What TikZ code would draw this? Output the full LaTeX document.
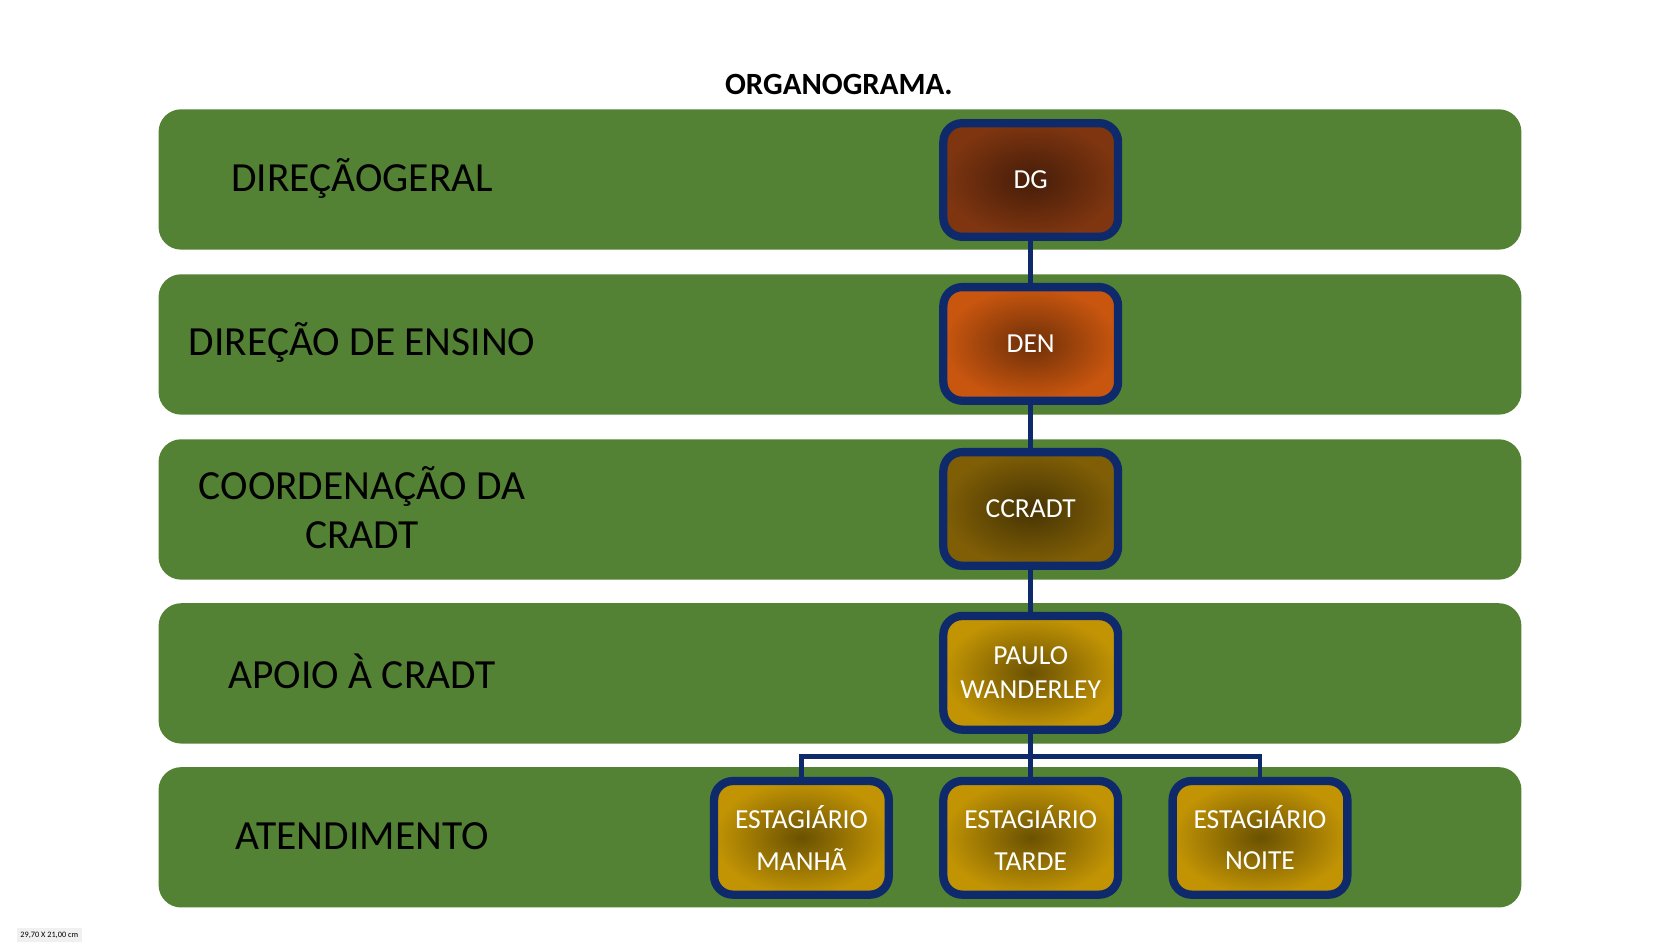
\documentclass[tikz,border=0pt]{standalone}
\usepackage{fontspec}
\setmainfont{Carlito}
\definecolor{band}{HTML}{548235}
\definecolor{navy}{HTML}{0E2A6A}
\definecolor{dgc}{HTML}{7E3510}
\definecolor{denc}{HTML}{C9560F}
\definecolor{ccc}{HTML}{7F5E06}
\definecolor{goldc}{HTML}{C29404}
\tikzset{
  band/.style={fill=band, rounded corners=6pt, draw=none},
  lbl/.style={font=\fontsize{11}{13}\selectfont, align=center, text=black},
  box/.style={draw=navy, line width=2.2pt, rounded corners=5pt, minimum width=1.63cm,
    minimum height=1.06cm, text width=1.45cm, inner sep=2pt, align=center, text=white,
    font=\fontsize{7.3}{9}\selectfont, shading=radial},
  link/.style={draw=navy, line width=1.3pt},
}
\begin{document}
\begin{tikzpicture}[x=0.01cm, y=-0.01cm]
  \useasboundingbox (0,0) rectangle (1568,882);
  \node[font=\bfseries\fontsize{8.2}{9}\selectfont] (title) at (783,79) {ORGANOGRAMA.};
  % bands
  \foreach \t in {102,256,410,563,716}
    \path[band] (148,\t) rectangle (1420,\t+131);
  \node[lbl] (l1) at (338,167) {DIREÇÃOGERAL};
  \node[lbl] (l2) at (338,320) {DIREÇÃO DE ENSINO};
  \node[lbl] (l3) at (338,474) {COORDENAÇÃO DA\\CRADT};
  \node[lbl] (l4) at (338,627) {APOIO À CRADT};
  \node[lbl] (l5) at (338,780) {ATENDIMENTO};
  % boxes
  \node[box, inner color=dgc!55!black, outer color=dgc] (dg) at (962,168) {DG};
  \node[box, inner color=denc!55!black, outer color=denc] (den) at (962,321) {DEN};
  \node[box, inner color=ccc!55!black, outer color=ccc] (cc) at (962,475) {CCRADT};
  \node[box, inner color=goldc!55!black, outer color=goldc] (pw) at (962,628) {PAULO\\WANDERLEY};
  \node[box, inner color=goldc!55!black, outer color=goldc, font=\fontsize{7.3}{11}\selectfont] (em) at (748,782) {ESTAGIÁRIO\\MANHÃ};
  \node[box, inner color=goldc!55!black, outer color=goldc, font=\fontsize{7.3}{11}\selectfont] (et) at (962,782) {ESTAGIÁRIO\\TARDE};
  \node[box, inner color=goldc!55!black, outer color=goldc, font=\fontsize{7.3}{11}\selectfont] (en) at (1176,782) {ESTAGIÁRIO\\NOITE};
  % links
  \draw[link] (dg) -- (den);
  \draw[link] (den) -- (cc);
  \draw[link] (cc) -- (pw);
  \coordinate (fork) at (962,706);
  \draw[link] (pw) -- (et);
  \draw[link] (em.north) |- (fork) -| (en.north);
  \node[font=\fontsize{2.2}{3}\selectfont, fill=black!6, inner sep=1pt] (size) at (46,873) {29,70 X 21,00 cm};
\end{tikzpicture}
\end{document}
